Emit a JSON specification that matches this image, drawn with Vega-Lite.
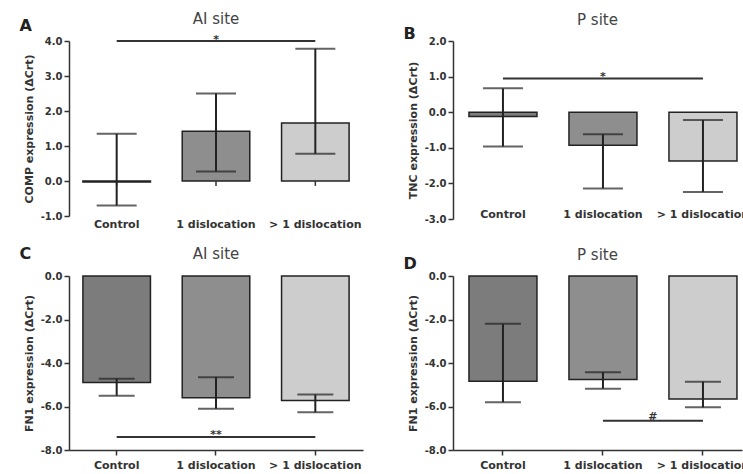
{
  "$schema": "https://vega.github.io/schema/vega-lite/v6.json",
  "background": "white",
  "padding": {"left": 19, "top": 11, "right": 0, "bottom": 0},
  "config": {
    "view": {"stroke": null},
    "font": "DejaVu Sans",
    "locale": {"number": {"decimal": ".", "thousands": ",", "grouping": [3], "currency": ["$", ""], "minus": "-"}},
    "title": {"font": "DejaVu Sans", "fontSize": 15, "fontWeight": "normal", "color": "#444", "frame": "group", "anchor": "middle"},
    "axis": {
      "labelFont": "DejaVu Sans", "labelFontWeight": "bold", "labelColor": "#333", "labelFontSize": 10, "labelOverlap": false,
      "titleFont": "DejaVu Sans", "titleFontWeight": "bold", "titleColor": "#333", "titleFontSize": 11,
      "domainColor": "#333", "domainWidth": 1.5, "tickColor": "#333", "tickWidth": 1.5, "tickSize": 5, "grid": false
    }
  },
  "datasets": {
    "A": [
      {"cat": "Control", "mean": -0.03, "lo": -0.7, "hi": 1.35},
      {"cat": "1 dislocation", "mean": 1.42, "lo": 0.27, "hi": 2.5},
      {"cat": "> 1 dislocation", "mean": 1.66, "lo": 0.78, "hi": 3.78}
    ],
    "B": [
      {"cat": "Control", "mean": -0.12, "lo": -0.96, "hi": 0.67},
      {"cat": "1 dislocation", "mean": -0.93, "lo": -2.14, "hi": -0.62},
      {"cat": "> 1 dislocation", "mean": -1.37, "lo": -2.24, "hi": -0.22}
    ],
    "C": [
      {"cat": "Control", "mean": -4.9, "lo": -5.5, "hi": -4.72},
      {"cat": "1 dislocation", "mean": -5.6, "lo": -6.1, "hi": -4.65},
      {"cat": "> 1 dislocation", "mean": -5.72, "lo": -6.27, "hi": -5.45}
    ],
    "D": [
      {"cat": "Control", "mean": -4.84, "lo": -5.8, "hi": -2.2},
      {"cat": "1 dislocation", "mean": -4.76, "lo": -5.18, "hi": -4.42},
      {"cat": "> 1 dislocation", "mean": -5.66, "lo": -6.04, "hi": -4.86}
    ],
    "sA": [{"from": "Control", "to": "> 1 dislocation", "mid": "1 dislocation", "y": 4.0, "label": "*"}],
    "sB": [{"from": "Control", "to": "> 1 dislocation", "mid": "1 dislocation", "y": 0.95, "label": "*"}],
    "sC": [{"from": "Control", "to": "> 1 dislocation", "mid": "1 dislocation", "y": -7.4, "label": "**"}],
    "sD": [{"from": "1 dislocation", "to": "> 1 dislocation", "mid": "1 dislocation", "y": -6.65, "label": "#"}]
  },
  "vconcat": [
    {
      "spacing": 40,
      "hconcat": [
        {
          "width": 294, "height": 175,
          "title": {"text": "AI site", "offset": -9.5},
          "resolve": {"axis": {"x": "independent"}},
          "layer": [
            {"data": {"name": "A"},
             "mark": {"type": "bar", "stroke": "#222", "strokeWidth": 1.5},
             "encoding": {
               "x": {"field": "cat", "type": "nominal", "title": null,
                     "scale": {"domain": ["Control", "1 dislocation", "> 1 dislocation"], "paddingInner": 0.32, "paddingOuter": 0.14},
                     "axis": {"labelAngle": 0, "domain": false, "ticks": false, "labelPadding": 2, "labelFontSize": 11}},
               "y": {"field": "mean", "type": "quantitative",
                     "scale": {"domain": [-1, 4], "nice": false, "zero": false},
                     "axis": {"values": [-1, 0, 1, 2, 3, 4], "tickCount": 6, "labelOverlap": false, "labelFlush": false, "format": ".1f", "title": "COMP expression (ΔCrt)", "titlePadding": 6}},
               "y2": {"datum": 0},
               "fill": {"field": "cat", "type": "nominal", "legend": null,
                        "scale": {"domain": ["Control", "1 dislocation", "> 1 dislocation"], "range": ["#7c7c7c", "#8e8e8e", "#cdcdcd"]}}
             }},
            {"mark": {"type": "rule", "color": "#333", "strokeWidth": 1.5},
             "encoding": {"y": {"datum": 0}}},
            {"data": {"name": "A"},
             "mark": {"type": "rule", "color": "#333", "strokeWidth": 1.5},
             "encoding": {"x": {"field": "cat", "type": "nominal", "axis": null}, "y": {"datum": 0}, "y2": {"datum": -0.14}}},
            {"data": {"name": "A"},
             "mark": {"type": "rule", "color": "#222", "strokeWidth": 2},
             "encoding": {
               "x": {"field": "cat", "type": "nominal",
                     "axis": {"orient": "top", "title": "A", "labels": false, "ticks": false, "domain": false,
                              "titleAngle": 0, "titleAlign": "left", "titleBaseline": "alphabetic", "titleX": -50, "titleY": -11,
                              "titleFontSize": 16, "titleColor": "#222"}},
               "y": {"field": "lo", "type": "quantitative"}, "y2": {"field": "hi"}}},
            {"data": {"name": "A"},
             "mark": {"type": "tick", "orient": "horizontal", "color": "#222", "size": 40, "thickness": 2},
             "encoding": {"x": {"field": "cat", "type": "nominal", "axis": null}, "y": {"field": "lo", "type": "quantitative"}}},
            {"data": {"name": "A"},
             "mark": {"type": "tick", "orient": "horizontal", "color": "#222", "size": 40, "thickness": 2},
             "encoding": {"x": {"field": "cat", "type": "nominal", "axis": null}, "y": {"field": "hi", "type": "quantitative"}}},
            {"data": {"name": "sA"},
             "mark": {"type": "rule", "color": "#333", "strokeWidth": 2},
             "encoding": {"x": {"field": "from", "type": "nominal", "axis": null}, "x2": {"field": "to"}, "y": {"field": "y", "type": "quantitative"}}},
            {"data": {"name": "sA"},
             "mark": {"type": "text", "fontSize": 11, "fontWeight": "bold", "color": "#333", "baseline": "alphabetic", "dy": 2},
             "encoding": {"x": {"field": "mid", "type": "nominal", "axis": null}, "y": {"field": "y", "type": "quantitative"}, "text": {"field": "label"}}}
          ]
        },
        {
          "width": 289, "height": 178,
          "title": {"text": "P site", "offset": -2.5},
          "resolve": {"axis": {"x": "independent"}},
          "layer": [
            {"data": {"name": "B"},
             "mark": {"type": "bar", "stroke": "#222", "strokeWidth": 1.5},
             "encoding": {
               "x": {"field": "cat", "type": "nominal", "title": null,
                     "scale": {"domain": ["Control", "1 dislocation", "> 1 dislocation"], "paddingInner": 0.32, "paddingOuter": 0.105, "align": 0.76},
                     "axis": {"labelAngle": 0, "domain": false, "ticks": false, "labelPadding": -11, "labelFontSize": 11}},
               "y": {"field": "mean", "type": "quantitative",
                     "scale": {"domain": [-3, 2], "nice": false, "zero": false},
                     "axis": {"values": [-3, -2, -1, 0, 1, 2], "tickCount": 6, "labelOverlap": false, "labelFlush": false, "format": ".1f", "title": "TNC expression (ΔCrt)", "titlePadding": 6}},
               "y2": {"datum": 0},
               "fill": {"field": "cat", "type": "nominal", "legend": null,
                        "scale": {"domain": ["Control", "1 dislocation", "> 1 dislocation"], "range": ["#7c7c7c", "#8e8e8e", "#cdcdcd"]}}
             }},
            {"mark": {"type": "rule", "color": "#333", "strokeWidth": 1.5},
             "encoding": {"y": {"datum": 0}}},
            {"data": {"name": "B"},
             "mark": {"type": "rule", "color": "#222", "strokeWidth": 2},
             "encoding": {
               "x": {"field": "cat", "type": "nominal",
                     "axis": {"orient": "top", "title": "B", "labels": false, "ticks": false, "domain": false,
                              "titleAngle": 0, "titleAlign": "left", "titleBaseline": "alphabetic", "titleX": -50, "titleY": -3,
                              "titleFontSize": 16, "titleColor": "#222"}},
               "y": {"field": "lo", "type": "quantitative"}, "y2": {"field": "hi"}}},
            {"data": {"name": "B"},
             "mark": {"type": "tick", "orient": "horizontal", "color": "#222", "size": 40, "thickness": 2},
             "encoding": {"x": {"field": "cat", "type": "nominal", "axis": null}, "y": {"field": "lo", "type": "quantitative"}}},
            {"data": {"name": "B"},
             "mark": {"type": "tick", "orient": "horizontal", "color": "#222", "size": 40, "thickness": 2},
             "encoding": {"x": {"field": "cat", "type": "nominal", "axis": null}, "y": {"field": "hi", "type": "quantitative"}}},
            {"data": {"name": "sB"},
             "mark": {"type": "rule", "color": "#333", "strokeWidth": 2},
             "encoding": {"x": {"field": "from", "type": "nominal", "axis": null}, "x2": {"field": "to"}, "y": {"field": "y", "type": "quantitative"}}},
            {"data": {"name": "sB"},
             "mark": {"type": "text", "fontSize": 11, "fontWeight": "bold", "color": "#333", "baseline": "alphabetic", "dy": 2},
             "encoding": {"x": {"field": "mid", "type": "nominal", "axis": null}, "y": {"field": "y", "type": "quantitative"}, "text": {"field": "label"}}}
          ]
        }
      ]
    },
    {
      "spacing": 40,
      "hconcat": [
        {
          "width": 294, "height": 174,
          "title": {"text": "AI site", "offset": -16.5},
          "resolve": {"axis": {"x": "independent"}},
          "layer": [
            {"data": {"name": "C"},
             "mark": {"type": "bar", "stroke": "#222", "strokeWidth": 1.5},
             "encoding": {
               "x": {"field": "cat", "type": "nominal", "title": null,
                     "scale": {"domain": ["Control", "1 dislocation", "> 1 dislocation"], "paddingInner": 0.32, "paddingOuter": 0.14},
                     "axis": {"labelAngle": 0, "labelPadding": 4, "labelFontSize": 11}},
               "y": {"field": "mean", "type": "quantitative",
                     "scale": {"domain": [-8, 0], "nice": false, "zero": false},
                     "axis": {"values": [-8, -6, -4, -2, 0], "labelOverlap": false, "format": ".1f", "title": "FN1 expression (ΔCrt)", "titlePadding": 6}},
               "y2": {"datum": 0},
               "fill": {"field": "cat", "type": "nominal", "legend": null,
                        "scale": {"domain": ["Control", "1 dislocation", "> 1 dislocation"], "range": ["#7c7c7c", "#8e8e8e", "#cdcdcd"]}}
             }},
            {"mark": {"type": "rule", "color": "#333", "strokeWidth": 1.5},
             "encoding": {"y": {"datum": 0}}},
            {"data": {"name": "C"},
             "mark": {"type": "rule", "color": "#222", "strokeWidth": 2},
             "encoding": {
               "x": {"field": "cat", "type": "nominal",
                     "axis": {"orient": "top", "title": "C", "labels": false, "ticks": false, "domain": false,
                              "titleAngle": 0, "titleAlign": "left", "titleBaseline": "alphabetic", "titleX": -50, "titleY": -18,
                              "titleFontSize": 16, "titleColor": "#222"}},
               "y": {"field": "lo", "type": "quantitative"}, "y2": {"field": "hi"}}},
            {"data": {"name": "C"},
             "mark": {"type": "tick", "orient": "horizontal", "color": "#222", "size": 36, "thickness": 2},
             "encoding": {"x": {"field": "cat", "type": "nominal", "axis": null}, "y": {"field": "lo", "type": "quantitative"}}},
            {"data": {"name": "C"},
             "mark": {"type": "tick", "orient": "horizontal", "color": "#222", "size": 36, "thickness": 2},
             "encoding": {"x": {"field": "cat", "type": "nominal", "axis": null}, "y": {"field": "hi", "type": "quantitative"}}},
            {"data": {"name": "sC"},
             "mark": {"type": "rule", "color": "#333", "strokeWidth": 2},
             "encoding": {"x": {"field": "from", "type": "nominal", "axis": null}, "x2": {"field": "to"}, "y": {"field": "y", "type": "quantitative"}}},
            {"data": {"name": "sC"},
             "mark": {"type": "text", "fontSize": 11, "fontWeight": "bold", "color": "#333", "baseline": "alphabetic", "dy": 1},
             "encoding": {"x": {"field": "mid", "type": "nominal", "axis": null}, "y": {"field": "y", "type": "quantitative"}, "text": {"field": "label"}}}
          ]
        },
        {
          "width": 289, "height": 174,
          "title": {"text": "P site", "offset": -7.5},
          "resolve": {"axis": {"x": "independent"}},
          "layer": [
            {"data": {"name": "D"},
             "mark": {"type": "bar", "stroke": "#222", "strokeWidth": 1.5},
             "encoding": {
               "x": {"field": "cat", "type": "nominal", "title": null,
                     "scale": {"domain": ["Control", "1 dislocation", "> 1 dislocation"], "paddingInner": 0.32, "paddingOuter": 0.105, "align": 0.76},
                     "axis": {"labelAngle": 0, "labelPadding": 4, "labelFontSize": 11}},
               "y": {"field": "mean", "type": "quantitative",
                     "scale": {"domain": [-8, 0], "nice": false, "zero": false},
                     "axis": {"values": [-8, -6, -4, -2, 0], "labelOverlap": false, "format": ".1f", "title": "FN1 expression (ΔCrt)", "titlePadding": 6}},
               "y2": {"datum": 0},
               "fill": {"field": "cat", "type": "nominal", "legend": null,
                        "scale": {"domain": ["Control", "1 dislocation", "> 1 dislocation"], "range": ["#7c7c7c", "#8e8e8e", "#cdcdcd"]}}
             }},
            {"mark": {"type": "rule", "color": "#333", "strokeWidth": 1.5},
             "encoding": {"y": {"datum": 0}}},
            {"data": {"name": "D"},
             "mark": {"type": "rule", "color": "#222", "strokeWidth": 2},
             "encoding": {
               "x": {"field": "cat", "type": "nominal",
                     "axis": {"orient": "top", "title": "D", "labels": false, "ticks": false, "domain": false,
                              "titleAngle": 0, "titleAlign": "left", "titleBaseline": "alphabetic", "titleX": -50, "titleY": -8,
                              "titleFontSize": 16, "titleColor": "#222"}},
               "y": {"field": "lo", "type": "quantitative"}, "y2": {"field": "hi"}}},
            {"data": {"name": "D"},
             "mark": {"type": "tick", "orient": "horizontal", "color": "#222", "size": 36, "thickness": 2},
             "encoding": {"x": {"field": "cat", "type": "nominal", "axis": null}, "y": {"field": "lo", "type": "quantitative"}}},
            {"data": {"name": "D"},
             "mark": {"type": "tick", "orient": "horizontal", "color": "#222", "size": 36, "thickness": 2},
             "encoding": {"x": {"field": "cat", "type": "nominal", "axis": null}, "y": {"field": "hi", "type": "quantitative"}}},
            {"data": {"name": "sD"},
             "mark": {"type": "rule", "color": "#333", "strokeWidth": 2},
             "encoding": {"x": {"field": "from", "type": "nominal", "axis": null}, "x2": {"field": "to"}, "y": {"field": "y", "type": "quantitative"}}},
            {"data": {"name": "sD"},
             "mark": {"type": "text", "fontSize": 11, "fontWeight": "bold", "color": "#333", "baseline": "alphabetic", "dy": -1, "dx": 50},
             "encoding": {"x": {"field": "mid", "type": "nominal", "axis": null}, "y": {"field": "y", "type": "quantitative"}, "text": {"field": "label"}}}
          ]
        }
      ]
    }
  ],
  "spacing": 16
}
